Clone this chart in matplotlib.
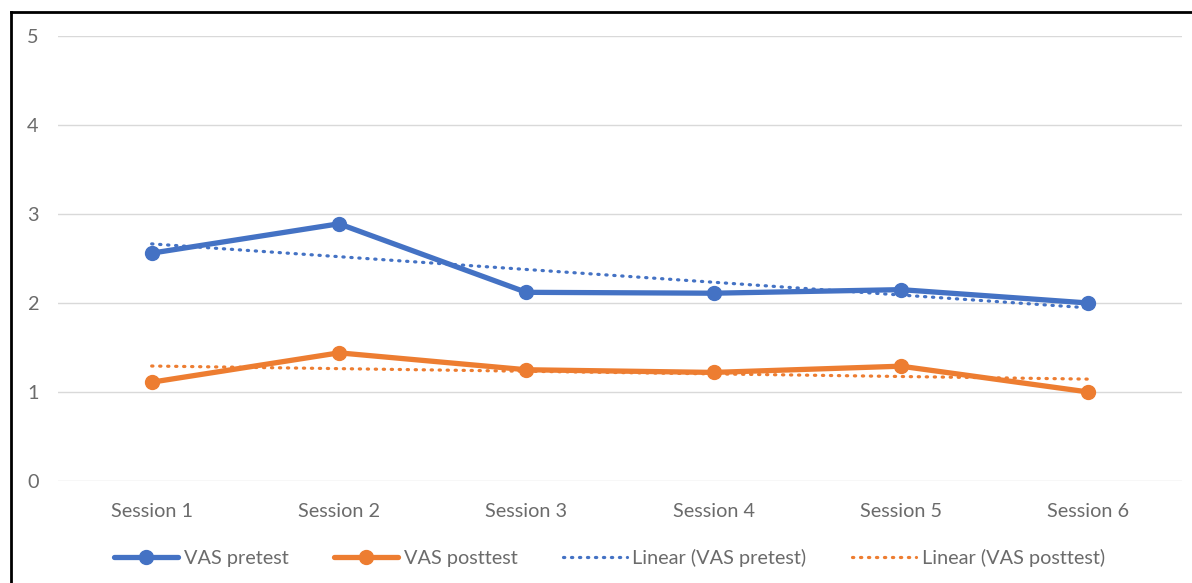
import numpy as np
import matplotlib
matplotlib.use("Agg")
import matplotlib.pyplot as plt
from matplotlib.lines import Line2D

categories = ["Session 1", "Session 2", "Session 3", "Session 4", "Session 5", "Session 6"]
vas_pretest = [2.56, 2.89, 2.12, 2.11, 2.15, 2.00]
vas_posttest = [1.11, 1.44, 1.25, 1.22, 1.29, 1.00]
yticks = [0, 1, 2, 3, 4, 5]

BLUE = "#4472C4"
ORANGE = "#ED7D31"
GRID = "#D9D9D9"
TEXT = "#6b6b6b"

plt.rcParams["font.family"] = ["Lato", "DejaVu Sans"]

fig = plt.figure(figsize=(11.92, 5.83), dpi=100)
ax = fig.add_axes([58/1192, 1-481/583, (1182-58)/1192, (481-36)/583])

x = np.arange(1, len(categories) + 1)

def trend(y):
    m, b = np.polyfit(x, y, 1)
    return m * x + b

dot = (0, (0.4, 2.1))
ax.plot(x, vas_pretest, color=BLUE, lw=3.8, marker="o", ms=10, solid_capstyle="round", zorder=4)
ax.plot(x, vas_posttest, color=ORANGE, lw=3.8, marker="o", ms=10, solid_capstyle="round", zorder=4)
ax.plot(x, trend(vas_pretest), color=BLUE, lw=2.3, linestyle=dot, dash_capstyle="round", zorder=3)
ax.plot(x, trend(vas_posttest), color=ORANGE, lw=2.3, linestyle=dot, dash_capstyle="round", zorder=3)

ax.set_xlim(0.5, len(categories) + 0.5)
ax.set_ylim(0, 5)
ax.set_yticks(yticks)
ax.set_yticklabels([str(v) for v in yticks])
ax.set_xticks(x)
ax.set_xticklabels(categories)
ax.grid(axis="y", color=GRID, lw=1.0)
ax.set_axisbelow(True)
for s in ax.spines.values():
    s.set_visible(False)
ax.tick_params(axis="both", length=0, labelsize=14.3, colors=TEXT)
ax.tick_params(axis="x", pad=16)
ax.yaxis.set_tick_params(pad=0)
for lab in ax.get_yticklabels():
    lab.set_horizontalalignment("left")
    lab.set_x(-31/1124)

handles = [
    Line2D([], [], color=BLUE, lw=3.8, marker="o", ms=10, solid_capstyle="round"),
    Line2D([], [], color=ORANGE, lw=3.8, marker="o", ms=10, solid_capstyle="round"),
    Line2D([], [], color=BLUE, lw=2.3, linestyle=dot, dash_capstyle="round"),
    Line2D([], [], color=ORANGE, lw=2.3, linestyle=dot, dash_capstyle="round"),
]
labels = ["VAS pretest", "VAS posttest", "Linear (VAS pretest)", "Linear (VAS posttest)"]
leg = fig.legend(handles, labels, loc="center", bbox_to_anchor=(609.5/1192, 1-558/583), ncol=4,
                 frameon=False, handlelength=3.2, handletextpad=0.3, columnspacing=2.3,
                 prop={"size": 14.3})
for t in leg.get_texts():
    t.set_color(TEXT)

# outer frame (left and top edges visible)
fig.add_artist(Line2D([11/1192, 11/1192], [0, 1-12/583], transform=fig.transFigure, color="black", lw=2))
fig.add_artist(Line2D([11/1192, 1], [1-12/583, 1-12/583], transform=fig.transFigure, color="black", lw=2))

fig.savefig("out.png", dpi=100)
